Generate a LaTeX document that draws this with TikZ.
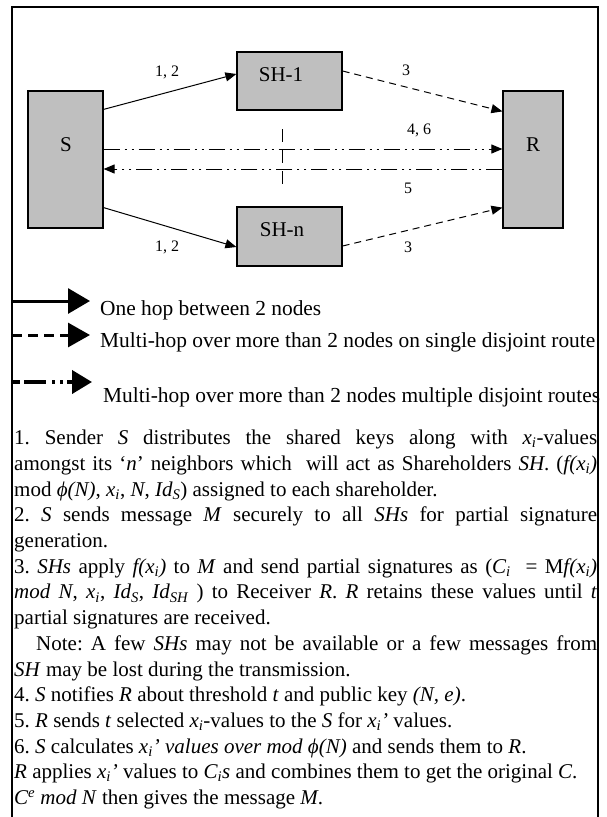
\documentclass[tikz,border=0pt]{standalone}
\usepackage{fontspec}
\setmainfont{Liberation Serif}
\usetikzlibrary{shapes,arrows.meta}
\newcommand{\xs}{\textit{x\textsubscript{i}}}
\frenchspacing

\begin{document}
\begin{tikzpicture}[x=1pt, y=-1pt,
  every node/.style = {inner sep=0pt},
  box/.style = {shape=rectangle, draw, line width=1.2pt, fill=gray!50},
  boxtxt/.style = {font=\fontsize{21}{24}\selectfont},
  num/.style = {font=\fontsize{16}{18}\selectfont},
  hop/.style = {line width=1pt, -{Triangle[length=11pt,width=9pt]}},
  multi/.style = {hop, dash pattern=on 7pt off 5pt},
  disj/.style = {hop, dash pattern=on 16pt off 5pt on 2pt off 5pt on 2pt off 5pt},
  legtxt/.style = {anchor=base west, font=\fontsize{21.4}{24}\selectfont}]
  \useasboundingbox (0,0) rectangle (606,817);
  \draw[line width=1.5pt] (12,817) -- (12,7) -- (598,7) -- (598,817);

  \node[box, minimum width=75pt, minimum height=137pt] (S) at (65.5,159.5) {};
  \node[box, minimum width=105pt, minimum height=58pt] (SH1) at (289.5,81) {};
  \node[box, minimum width=105pt, minimum height=59pt] (SHn) at (289.5,236.5) {};
  \node[box, minimum width=60pt, minimum height=137pt] (R) at (533,159.5) {};
  \node[boxtxt] (Slbl) at (66,145) {S};
  \node[boxtxt] (SH1lbl) at (281,75) {SH-1};
  \node[boxtxt] (SHnlbl) at (282,230) {SH-n};
  \node[boxtxt] (Rlbl) at (533,145) {R};

  \draw[hop] ([yshift=-19pt]S.north east) -- ([yshift=7pt]SH1.west);
  \draw[hop] ([yshift=21pt]S.south east) -- ([yshift=-10.5pt]SHn.west);
  \draw[multi] ([yshift=10pt]SH1.east) -- ([yshift=-21pt]R.north west);
  \draw[multi] ([yshift=-9.5pt]SHn.east) -- ([yshift=21pt]R.south west);
  \draw[disj] ([yshift=10.5pt]S.east) -- ([yshift=10.5pt]R.west);
  \draw[disj] ([yshift=-9.5pt]R.west) -- ([yshift=-9.5pt]S.east);
  \coordinate (cuttop) at (282,129);
  \coordinate (cutbot) at (282,184);
  \draw[line width=1pt, dash pattern=on 13pt off 8pt] (cuttop) -- (cutbot);

  \node[num] (l12a) at (167,72) {1, 2};
  \node[num] (l12b) at (167,247) {1, 2};
  \node[num] (l3a) at (406,70) {3};
  \node[num] (l3b) at (408,247) {3};
  \node[num] (l46) at (419,130) {4, 6};
  \node[num] (l5) at (408,188) {5};

  \coordinate (k1a) at (12,301);
  \coordinate (k1b) at (90,301);
  \coordinate (k2a) at (12,335);
  \coordinate (k2b) at (90,335);
  \coordinate (k3a) at (12,382);
  \coordinate (k3b) at (92,382);
  \draw[line width=3pt, -{Triangle[length=22pt,width=25pt]}] (k1a) -- (k1b);
  \draw[line width=3pt, dash pattern=on 10pt off 6pt,
    -{Triangle[length=22pt,width=24pt]}] (k2a) -- (k2b);
  \draw[line width=4pt, dash pattern=on 8pt off 4pt on 22pt off 6pt on 3pt off 5pt on 3pt off 4pt,
    -{Triangle[length=20pt,width=23pt]}] (k3a) -- (k3b);
  \node[legtxt] (leg1) at (100,315) {One hop between 2 nodes};
  \node[legtxt] (leg2) at (100,347) {Multi-hop over more than 2 nodes on single disjoint route};
  \node[legtxt] (leg3) at (103,402) {Multi-hop over more than 2 nodes multiple disjoint routes};

  \node[anchor=north west, text width=583pt, align=justify,
    font=\fontsize{21}{25.7}\selectfont] (steps) at (14,430) {%
    1. Sender \textit{S} distributes the shared keys along with \xs-values\linebreak
    amongst its `\textit{n}' neighbors which\ \ will act as Shareholders \textit{SH}. (\textit{f(\xs)}\linebreak
    mod \textit{ϕ(N)}, \xs, \textit{N}, \textit{Id\textsubscript{S}}) assigned to each shareholder.\par
    2. \textit{S} sends message \textit{M} securely to all \textit{SHs} for partial signature\linebreak
    generation.\par
    3. \textit{SHs} apply \textit{f(\xs)} to \textit{M} and send partial signatures as (\textit{C\textsubscript{i}}\ \ = M\textit{f(\xs)}\linebreak
    \textit{mod N}, \xs, \textit{Id\textsubscript{S}}, \textit{Id\textsubscript{SH}} ) to Receiver \textit{R}. \textit{R} retains these values until \textit{t}\linebreak
    partial signatures are received.\par
    \hspace*{22pt}Note: A few \textit{SHs} may not be available or a few messages from\linebreak
    \textit{SH} may be lost during the transmission.\par
    4. \textit{S} notifies \textit{R} about threshold \textit{t} and public key \textit{(N, e)}.\par
    5. \textit{R} sends \textit{t} selected \xs-values to the \textit{S} for \textit{x\textsubscript{i}’} values.\par
    6. \textit{S} calculates \textit{x\textsubscript{i}’ values over mod ϕ(N)} and sends them to \textit{R}.\par
    \textit{R} applies \textit{x\textsubscript{i}’} values to \textit{C\textsubscript{i}s} and combines them to get the original \textit{C}.\par
    \textit{C\textsuperscript{e} mod N} then gives the message \textit{M}.};
\end{tikzpicture}
\end{document}
